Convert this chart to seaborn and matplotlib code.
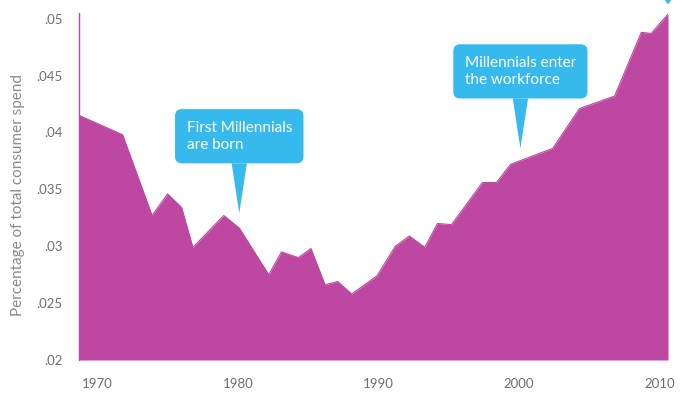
import matplotlib
matplotlib.use('Agg')
import matplotlib.pyplot as plt
import seaborn as sns
import pandas as pd

# share of total consumer spend
years = [1968.7, 1971.8, 1973.9, 1975.0, 1976.0, 1976.8, 1979.0, 1980.1, 1982.2, 1983.1,
         1984.3, 1985.2, 1986.2, 1987.1, 1988.1, 1989.9, 1991.2, 1992.2, 1993.3, 1994.2,
         1995.2, 1997.4, 1998.4, 1999.4, 2002.4, 2004.3, 2006.8, 2008.7, 2009.4, 2010.6]
values = [0.0415, 0.0398, 0.0327, 0.0346, 0.0334, 0.0299, 0.0327, 0.0316, 0.0275, 0.0295,
          0.0290, 0.0298, 0.0266, 0.0269, 0.0258, 0.0274, 0.0300, 0.0309, 0.0299, 0.0320,
          0.0319, 0.0356, 0.0356, 0.0372, 0.0386, 0.0421, 0.0432, 0.0488, 0.0487, 0.0504]

xticks = [1970, 1980, 1990, 2000, 2010]
yticks = [0.02, 0.025, 0.03, 0.035, 0.04, 0.045, 0.05]
ytick_labels = ['.02', '.025', '.03', '.035', '.04', '.045', '.05']

# callouts: text, year and value the pointer ends at
notes = [('First Millennials\nare born', 1980.1, 0.0329),
         ('Millennials enter\nthe workforce', 2000.1, 0.0386)]

purple = '#bd47a1'
blue = '#36b9ed'
grey = '#6f6f6f'

df = pd.DataFrame({'year': years, 'share': values})

sns.set_style('white')
plt.rcParams['font.family'] = ['Lato', 'DejaVu Sans']

fig = plt.figure(figsize=(6.82, 3.98), dpi=100)
ax = fig.add_axes([79/682, 38/398, 589/682, 347/398])

sns.lineplot(data=df, x='year', y='share', color=purple, lw=0.8, ax=ax)
ax.fill_between(df['year'], df['share'], yticks[0], color=purple, lw=0)
ax.axvline(years[0], color=purple, lw=1.0, clip_on=False)

ax.set_xlim(years[0], years[-1])
ax.set_ylim(yticks[0], 0.0505)
ax.set_xticks(xticks)
ax.set_xticklabels([str(x) for x in xticks])
ax.set_yticks(yticks)
ax.set_yticklabels(ytick_labels)
ax.tick_params(axis='x', length=0, pad=13, labelsize=9.5, labelcolor=grey)
ax.tick_params(axis='y', length=0, pad=12, labelsize=9.5, labelcolor=grey)
ax.set_xlabel('')
ax.set_ylabel('Percentage of total consumer spend', fontsize=11, color='#8a8a8a')
ax.yaxis.set_label_coords(-0.092, 0.475)
sns.despine(ax=ax, left=True, bottom=True)

for text, yr, val in notes:
    ax.annotate(text, xy=(yr, val), xytext=(0, 77), textcoords='offset pixels',
                ha='center', va='center', multialignment='left',
                fontsize=11, color='white', linespacing=1.3,
                bbox=dict(boxstyle='round,pad=0.75,rounding_size=0.45', fc=blue, ec='none'),
                arrowprops=dict(arrowstyle='wedge,tail_width=1.0', fc=blue, ec='none',
                                shrinkA=0, shrinkB=0))

# pointer of a third callout, cut off by the top edge
ax.annotate('', xy=(years[-1], values[-1]), xytext=(0, 22), textcoords='offset pixels',
            annotation_clip=False,
            arrowprops=dict(arrowstyle='wedge,tail_width=1.3', fc=blue, ec='none',
                            shrinkA=0, shrinkB=7))

fig.savefig('out.png', dpi=100)
